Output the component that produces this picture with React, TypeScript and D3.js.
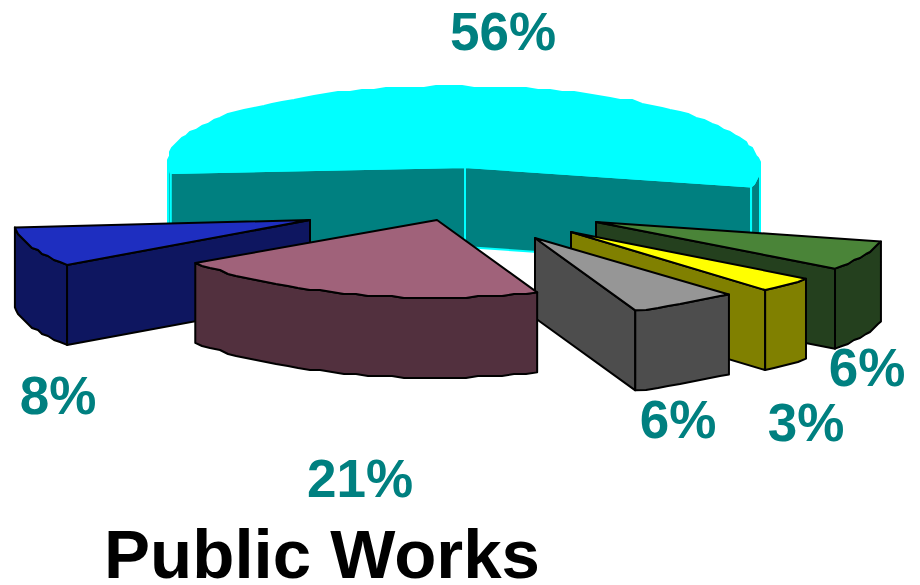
import * as d3 from "d3";

// Budget shares, clockwise from the large back slice.
const sliceNames = ["Operations", "Fleet", "Parks", "Streets", "Utilities", "Admin"];
const sliceValues = [56, 6, 3, 6, 21, 8];
const chartTitle = "Public Works";

const topColors = ["#00ffff", "#4a8438", "#ffff00", "#969696", "#a0627a", "#1e2ec0"];
const wallColors = ["#008080", "#24401e", "#808000", "#4d4d4d", "#52303e", "#0e1660"];
const edgeColors = ["#00ffff", "#000000", "#000000", "#000000", "#000000", "#000000"];

// Exploded slice placement on the page.
const apexX = [465, 596, 571, 535, 437, 310];
const apexY = [167, 222, 232, 238, 220, 220];
const rimRadiusX = [296, 291, 330, 297, 290, 281];
const rimRadiusY = [80, 80, 80, 78, 78, 80];
const rimShiftX = [-1, 2.7, -33, -10.5, -8, -16.5];
// Perspective lift of the far-left part of each rim.
const rimLift = [4.5, 0, 0, 0, 4, 3];
const labelX = [503, 867, 806, 678, 360, 58];
const labelY = [50, 386, 441, 438, 497, 414];

const WIDTH = 920;
const HEIGHT = 585;
const DEPTH = 80;
const START_DEG = -97.5;
const SNAP = 2;
const STEP = (2.5 * Math.PI) / 180;
const FONT = "'Liberation Sans', Arial, sans-serif";

type Pt = [number, number];

const arcs = d3
  .pie<number>()
  .sort(null)
  .startAngle((START_DEG * Math.PI) / 180)
  .endAngle((START_DEG * Math.PI) / 180 + 2 * Math.PI)(sliceValues);

const outline = d3.line<Pt>().curve(d3.curveLinear);
const snap = (v: number) => Math.round(v / SNAP) * SNAP;

// Samples the rim between two angles on a coarse pixel lattice, which gives the rim its stepped edge.
function rimPoints(i: number, a0: number, a1: number): Pt[] {
  const cx = apexX[i] + rimShiftX[i];
  const cy = apexY[i];
  const sx = d3.scaleLinear().domain([-1, 1]).range([cx - rimRadiusX[i], cx + rimRadiusX[i]]);
  const sy = d3.scaleLinear().domain([-1, 1]).range([cy - rimRadiusY[i], cy + rimRadiusY[i]]);
  const n = Math.max(1, Math.ceil((a1 - a0) / STEP));
  return d3.range(n + 1).map((k) => {
    const a = a0 + ((a1 - a0) * k) / n;
    const x = sx(Math.sin(a));
    const y = sy(-Math.cos(a)) + rimLift[i] * Math.min(0, Math.sin(a));
    return k === 0 || k === n ? ([x, y] as Pt) : ([snap(x), snap(y)] as Pt);
  });
}

const lower = (pts: Pt[]): Pt[] => pts.map(([x, y]) => [x, y + DEPTH] as Pt);

// Parts of an angular span on the viewer's side of the slice, where the outer wall shows.
function frontSpans(a0: number, a1: number): [number, number][] {
  const spans: [number, number][] = [];
  for (let k = -1; k <= 1; k++) {
    const lo = Math.PI / 2 + 2 * Math.PI * k;
    const hi = (3 * Math.PI) / 2 + 2 * Math.PI * k;
    const s = Math.max(a0, lo);
    const e = Math.min(a1, hi);
    if (e > s) spans.push([s, e]);
  }
  return spans;
}

function Slice({ index }: { index: number }) {
  const { startAngle, endAngle } = arcs[index];
  const apex: Pt = [apexX[index], apexY[index]];
  const rim = rimPoints(index, startAngle, endAngle);
  const stroke = edgeColors[index];
  const common = { stroke, strokeWidth: 2, strokeLinejoin: "round" as const };
  const faces: Pt[][] = [];

  // A cut wall is drawn only when it turns toward the viewer.
  if (-Math.sin(startAngle) > 0) {
    const p = rim[0];
    faces.push([apex, p, [p[0], p[1] + DEPTH], [apex[0], apex[1] + DEPTH]]);
  }
  if (Math.sin(endAngle) > 0) {
    const p = rim[rim.length - 1];
    faces.push([apex, p, [p[0], p[1] + DEPTH], [apex[0], apex[1] + DEPTH]]);
  }
  frontSpans(startAngle, endAngle).forEach(([s, e]) => {
    const top = rimPoints(index, s, e);
    faces.push([...top, ...lower(top).reverse()]);
  });

  return (
    <g>
      {faces.map((f, k) => (
        <path key={k} d={outline(f) + "Z"} fill={wallColors[index]} {...common} />
      ))}
      <path d={outline([apex, ...rim]) + "Z"} fill={topColors[index]} {...common} />
    </g>
  );
}

// Painter's order: back slice first, then the right fan, the left slice, and the front.
const paintOrder = [0, 1, 2, 5, 3, 4];

export default function App() {
  return (
    <svg
      width={WIDTH}
      height={HEIGHT}
      viewBox={`0 0 ${WIDTH} ${HEIGHT}`}
      style={{ position: "absolute", left: 0, top: 0, background: "#ffffff" }}
    >
      {paintOrder.map((i) => (
        <Slice key={sliceNames[i]} index={i} />
      ))}
      {sliceValues.map((v, i) => (
        <text
          key={sliceNames[i]}
          x={labelX[i]}
          y={labelY[i]}
          textAnchor="middle"
          fontFamily={FONT}
          fontWeight="bold"
          fontSize={53}
          fill="#008080"
        >
          {`${v}%`}
        </text>
      ))}
      <text
        x={322}
        y={578}
        textAnchor="middle"
        fontFamily={FONT}
        fontWeight="bold"
        fontSize={69}
        fill="#000000"
      >
        {chartTitle}
      </text>
    </svg>
  );
}
